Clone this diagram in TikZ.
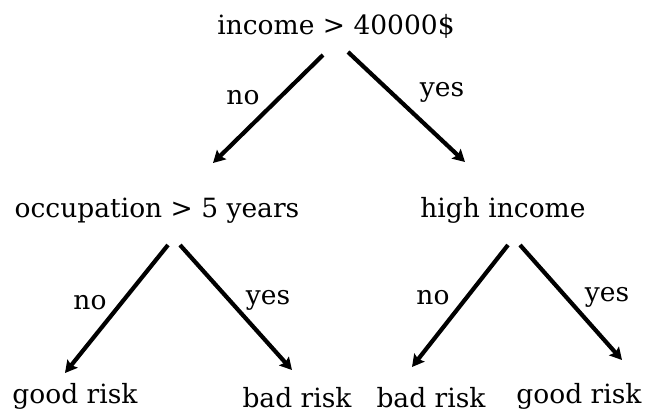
\documentclass[tikz,border=0pt]{standalone}
\usepackage{fontspec}
\setmainfont{DejaVu Serif}
\usetikzlibrary{arrows.meta}
\begin{document}
\begin{tikzpicture}[x=1pt,y=-1pt,
  lbl/.style={inner sep=0pt,anchor=base,font=\fontsize{26.5}{30}\selectfont},
  edge/.style={line width=4.2pt,-{Stealth[length=12pt,width=13pt,inset=2pt]}}]
\useasboundingbox (0,0) rectangle (646,414);
% nodes
\node[lbl] (root) at (336,35) {income > 40000\$};
\node[lbl] (occ) at (157,218) {occupation > 5 years};
\node[lbl] (hi) at (503,218) {high income};
\node[lbl] (g1) at (75,403) {good risk};
\node[lbl] (b1) at (297,407) {bad risk};
\node[lbl] (b2) at (431,407) {bad risk};
\node[lbl] (g2) at (579,403) {good risk};
% edge end points
\coordinate (r1) at (323,55); \coordinate (r1e) at (213,163);
\coordinate (r2) at (348,52); \coordinate (r2e) at (465,162);
\coordinate (o1) at (168,245); \coordinate (o1e) at (65,373);
\coordinate (o2) at (180,245); \coordinate (o2e) at (292,370);
\coordinate (h1) at (508,245); \coordinate (h1e) at (412,367);
\coordinate (h2) at (520,245); \coordinate (h2e) at (622,360);
\draw[edge] (r1) -- (r1e);
\draw[edge] (r2) -- (r2e);
\draw[edge] (o1) -- (o1e);
\draw[edge] (o2) -- (o2e);
\draw[edge] (h1) -- (h1e);
\draw[edge] (h2) -- (h2e);
% edge labels
\node[lbl] (ln1) at (243,105) {no};
\node[lbl] (ly1) at (442,97) {yes};
\node[lbl] (ln2) at (90,310) {no};
\node[lbl] (ly2) at (268,305) {yes};
\node[lbl] (ln3) at (433,305) {no};
\node[lbl] (ly3) at (607,302) {yes};
\end{tikzpicture}
\end{document}
